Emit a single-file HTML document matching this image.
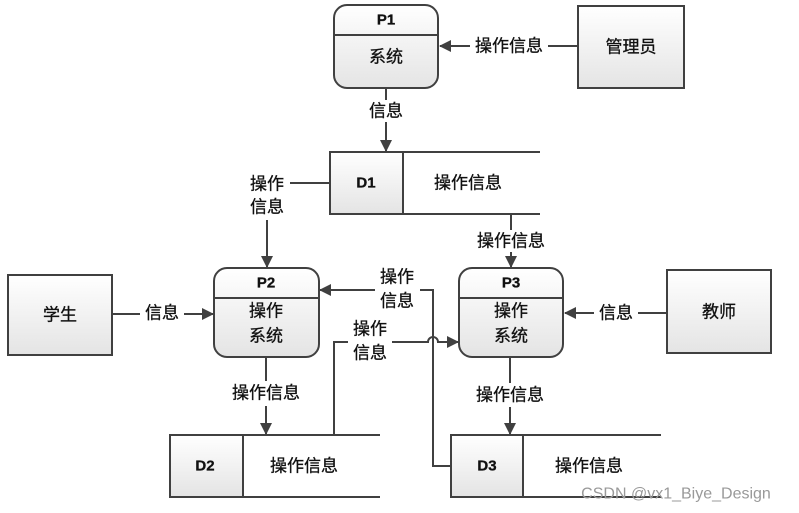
<!DOCTYPE html>
<html><head><meta charset="utf-8"><style>
html,body{margin:0;padding:0;background:#fff;}
svg{display:block;font-family:"Liberation Sans","Noto Sans CJK SC",sans-serif;}
</style></head><body>
<svg width="799" height="513" viewBox="0 0 799 513" xmlns="http://www.w3.org/2000/svg">
<defs>
<linearGradient id="g" x1="0" y1="0" x2="0" y2="1"><stop offset="0" stop-color="#ffffff"/><stop offset="1" stop-color="#e4e4e4"/></linearGradient>
<marker id="a" markerWidth="12" markerHeight="12" refX="11" refY="6" orient="auto" markerUnits="userSpaceOnUse"><path d="M0,0 L12,6 L0,12 z" fill="#404040"/></marker>
</defs>
<g stroke="#404040" stroke-width="2" fill="none">
<rect x="334" y="5" width="104" height="83" rx="13" fill="url(#g)"/>
<line x1="334" y1="35" x2="438" y2="35"/>
<rect x="578" y="6" width="106" height="82" fill="url(#g)"/>
<line x1="578" y1="46" x2="548" y2="46"/>
<line x1="470" y1="46" x2="440" y2="46" marker-end="url(#a)"/>
<line x1="386" y1="88" x2="386" y2="100"/>
<line x1="386" y1="122" x2="386" y2="151" marker-end="url(#a)"/>
<rect x="330" y="152" width="73" height="62" fill="url(#g)"/>
<line x1="403" y1="152" x2="540" y2="152"/>
<line x1="403" y1="214" x2="540" y2="214"/>
<line x1="330" y1="183" x2="290" y2="183"/>
<line x1="267" y1="220" x2="267" y2="267" marker-end="url(#a)"/>
<line x1="511" y1="214" x2="511" y2="230"/>
<line x1="511" y1="252" x2="511" y2="267" marker-end="url(#a)"/>
<rect x="8" y="275" width="104" height="80" fill="url(#g)"/>
<line x1="112" y1="314" x2="140" y2="314"/>
<line x1="184" y1="314" x2="213" y2="314" marker-end="url(#a)"/>
<rect x="214" y="268" width="105" height="89" rx="13" fill="url(#g)"/>
<line x1="214" y1="298" x2="319" y2="298"/>
<rect x="459" y="268" width="104" height="89" rx="13" fill="url(#g)"/>
<line x1="459" y1="298" x2="563" y2="298"/>
<rect x="667" y="270" width="104" height="83" fill="url(#g)"/>
<line x1="667" y1="313" x2="638" y2="313"/>
<line x1="594" y1="313" x2="565" y2="313" marker-end="url(#a)"/>
<line x1="266" y1="357" x2="266" y2="381"/>
<line x1="266" y1="406" x2="266" y2="434" marker-end="url(#a)"/>
<line x1="510" y1="357" x2="510" y2="383"/>
<line x1="510" y1="407" x2="510" y2="434" marker-end="url(#a)"/>
<rect x="170" y="435" width="73" height="62" fill="url(#g)"/>
<line x1="243" y1="435" x2="380" y2="435"/>
<line x1="243" y1="497" x2="380" y2="497"/>
<rect x="451" y="435" width="72" height="62" fill="url(#g)"/>
<line x1="523" y1="435" x2="661" y2="435"/>
<line x1="523" y1="497" x2="661" y2="497"/>
<path d="M334,435 V342 H348"/>
<path d="M392,342 H428 a5,5 0 0 1 10,0 H458" marker-end="url(#a)"/>
<path d="M451,466 H433 V290 H420"/>
<line x1="375" y1="290" x2="320" y2="290" marker-end="url(#a)"/>
</g>
<g font-size="17" fill="#111" text-anchor="middle" dominant-baseline="central" stroke="#111" stroke-width="0.3">
<text x="386" y="20" font-weight="bold" font-size="15">P1</text>
<text x="386" y="57">系统</text>
<text x="631" y="47">管理员</text>
<text x="509" y="46">操作信息</text>
<text x="386" y="111">信息</text>
<text x="366" y="183" font-weight="bold" font-size="15">D1</text>
<text x="468" y="183">操作信息</text>
<text x="267" y="184">操作</text>
<text x="267" y="207">信息</text>
<text x="511" y="241">操作信息</text>
<text x="60" y="315">学生</text>
<text x="162" y="313">信息</text>
<text x="266" y="283" font-weight="bold" font-size="15">P2</text>
<text x="266" y="311">操作</text>
<text x="266" y="336">系统</text>
<text x="511" y="283" font-weight="bold" font-size="15">P3</text>
<text x="511" y="311">操作</text>
<text x="511" y="336">系统</text>
<text x="719" y="312">教师</text>
<text x="616" y="313">信息</text>
<text x="397" y="277">操作</text>
<text x="397" y="301">信息</text>
<text x="370" y="329">操作</text>
<text x="370" y="353">信息</text>
<text x="266" y="393">操作信息</text>
<text x="510" y="395">操作信息</text>
<text x="205" y="466" font-weight="bold" font-size="15">D2</text>
<text x="304" y="466">操作信息</text>
<text x="487" y="466" font-weight="bold" font-size="15">D3</text>
<text x="589" y="466">操作信息</text>
</g>
<text x="676" y="494" fill="#999" font-size="16" text-anchor="middle" dominant-baseline="central">CSDN @vx1_Biye_Design</text>
</svg>
</body></html>
